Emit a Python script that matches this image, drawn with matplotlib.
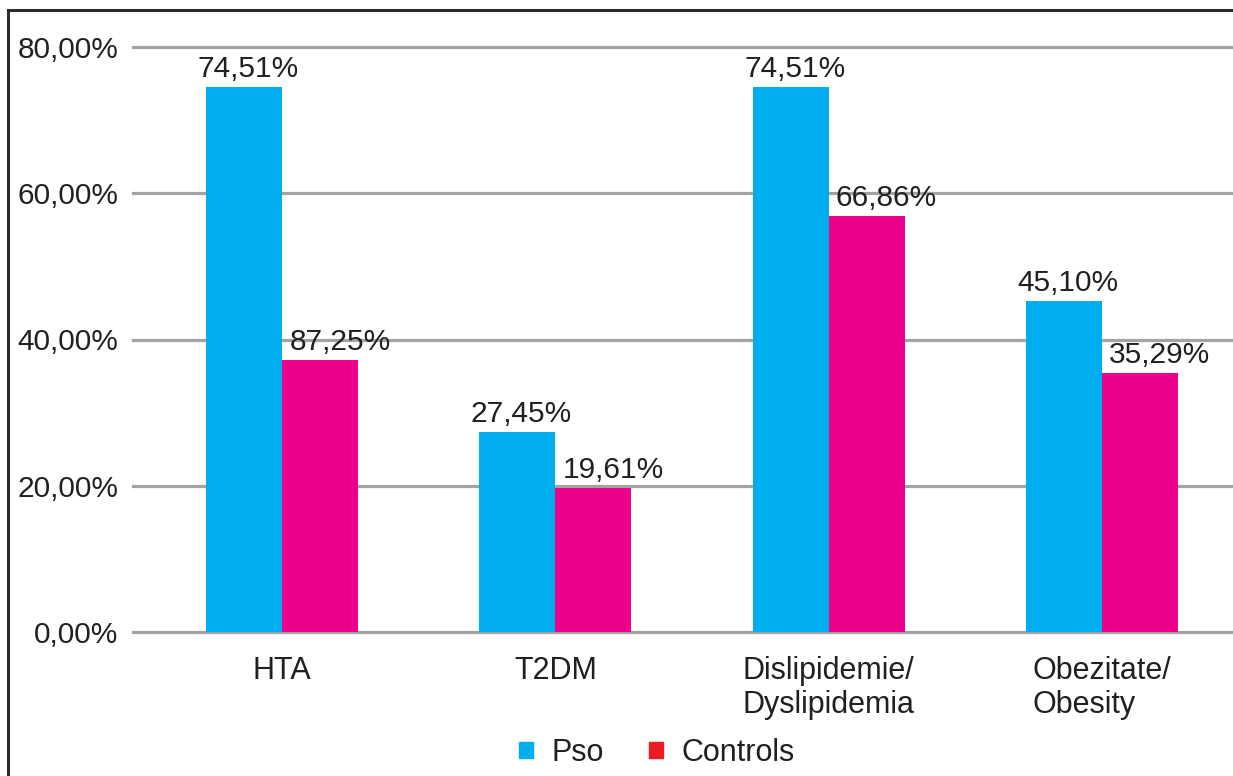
import matplotlib
matplotlib.use("Agg")
import matplotlib.pyplot as plt
from matplotlib.lines import Line2D
from matplotlib.patches import Patch
from matplotlib.transforms import offset_copy
import numpy as np

categories = ["HTA", "T2DM", "Dislipidemie/\nDyslipidemia", "Obezitate/\nObesity"]
pso_values = [74.5, 27.4, 74.5, 45.2]
control_values = [37.2, 19.7, 56.9, 35.4]
pso_labels = ["74,51%", "27,45%", "74,51%", "45,10%"]
control_labels = ["87,25%", "19,61%", "66,86%", "35,29%"]
yticks = [0, 20, 40, 60, 80]
ytick_labels = ["0,00%", "20,00%", "40,00%", "60,00%", "80,00%"]
series_names = ["Pso", "Controls"]

plt.rcParams['font.family'] = ['Liberation Sans', 'DejaVu Sans']
TEXT = "#231f20"
BLUE = "#00aeef"
MAGENTA = "#ec008c"
RED = "#ed1c24"

W, H = 1233, 776
fig = plt.figure(figsize=(W / 100, H / 100), dpi=100)
ax = fig.add_axes([133 / W, (H - 632) / H, 1 - 133 / W, (632 - 47) / H])

x = np.arange(len(categories))
bw = 0.278
ax.bar(x - bw / 2, pso_values, width=bw, color=BLUE, zorder=3)
ax.bar(x + bw / 2, control_values, width=bw, color=MAGENTA, zorder=3)

ax.set_xlim(-0.546, 3.48)
ax.set_ylim(0, 80)
ax.set_yticks(yticks)
ax.set_yticklabels(ytick_labels)
ax.yaxis.grid(True, color="#a3a3a3", linewidth=2.3, zorder=0)
for gl in ax.get_ygridlines():
    gl.set_clip_on(False)
ax.set_axisbelow(True)
for s in ax.spines.values():
    s.set_visible(False)
ax.tick_params(axis='y', length=0, pad=10.5, labelsize=21.5, labelcolor=TEXT)
ax.tick_params(axis='x', length=0, pad=17, labelsize=22, labelcolor=TEXT)
ax.set_xticks(x)
ax.set_xticklabels(categories, linespacing=1.2)
for t in ax.get_xticklabels():
    t.set_multialignment('left')

tr_b = offset_copy(ax.transData, fig=fig, x=4, y=4, units='dots')
tr_m = offset_copy(ax.transData, fig=fig, x=20, y=4, units='dots')
for i in range(len(categories)):
    ax.text(x[i] - bw / 2, pso_values[i], pso_labels[i], ha='center', va='bottom',
            fontsize=21.5, color=TEXT, transform=tr_b, clip_on=False, zorder=4)
    ax.text(x[i] + bw / 2, control_values[i], control_labels[i], ha='center', va='bottom',
            fontsize=21.5, color=TEXT, transform=tr_m, clip_on=False, zorder=4)

handles = [Patch(color=BLUE), Patch(color=RED)]
leg = fig.legend(handles, series_names, loc='center', bbox_to_anchor=(657 / W, 1 - 753 / H),
                 ncol=2, frameon=False, fontsize=22, handlelength=0.45, handleheight=0.45,
                 handletextpad=0.6, columnspacing=1.5)
for t in leg.get_texts():
    t.set_color(TEXT)

# outer frame
fig.add_artist(Line2D([8 / W, 8 / W], [0, 1 - 10 / H], transform=fig.transFigure,
                      color="#2b2b2b", linewidth=2.2))
fig.add_artist(Line2D([8 / W, 1], [1 - 10 / H, 1 - 10 / H], transform=fig.transFigure,
                      color="#2b2b2b", linewidth=2.2))

fig.savefig("out.png", dpi=100)
